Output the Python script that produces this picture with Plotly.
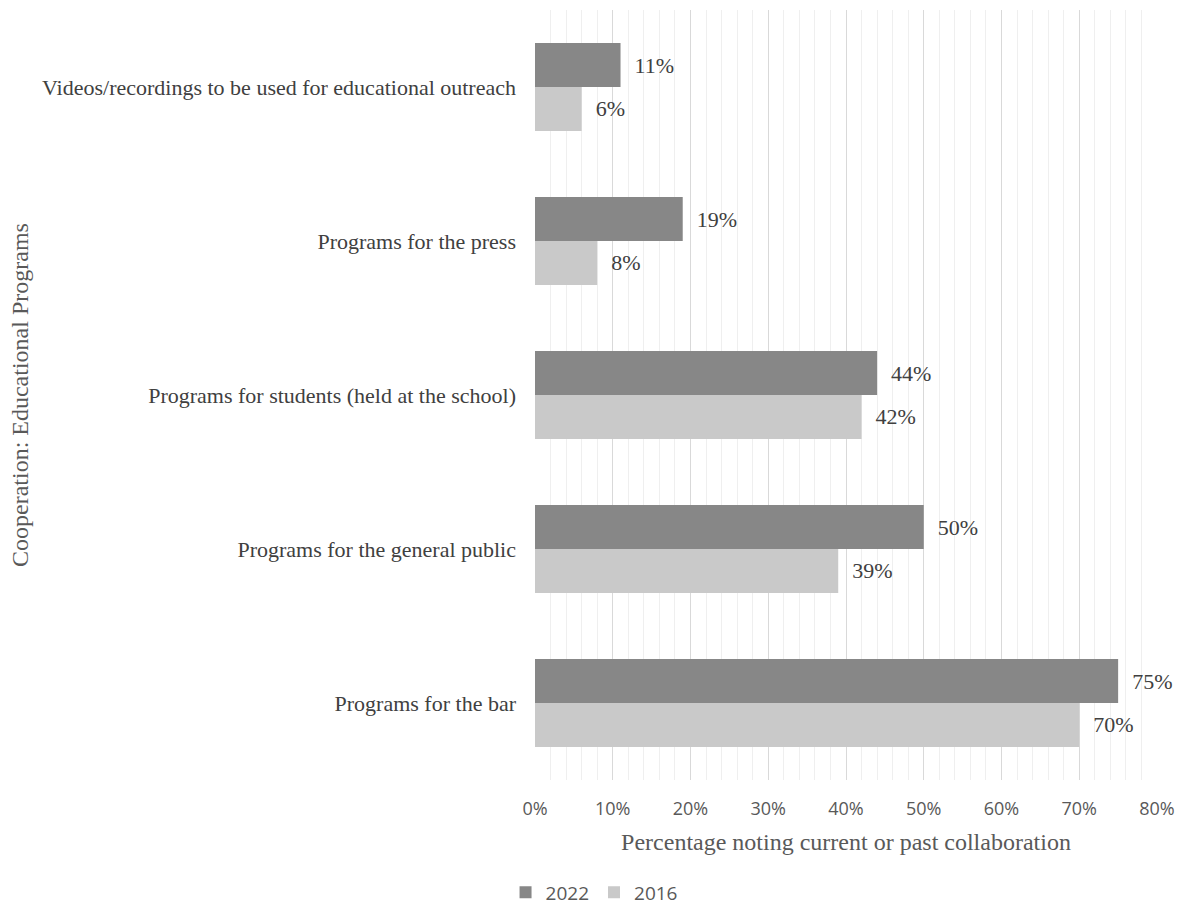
import plotly.graph_objects as go

categories = [
    "Videos/recordings to be used for educational outreach",
    "Programs for the press",
    "Programs for students (held at the school)",
    "Programs for the general public",
    "Programs for the bar",
]
values_2022 = [11, 19, 44, 50, 75]
values_2016 = [6, 8, 42, 39, 70]
x_ticks = [0, 10, 20, 30, 40, 50, 60, 70, 80]

serif = "Liberation Serif"
sans = "Open Sans"

fig = go.Figure()
fig.add_trace(go.Bar(
    y=categories, x=values_2022, name="2022", orientation="h",
    marker=dict(color="#878787", line=dict(width=0)),
    text=[f"  {v}%" for v in values_2022], textposition="outside",
    textfont=dict(family=serif, size=22, color="#404040"), cliponaxis=False,
))
fig.add_trace(go.Bar(
    y=categories, x=values_2016, name="2016", orientation="h",
    marker=dict(color="#c9c9c9", line=dict(width=0)),
    text=[f"  {v}%" for v in values_2016], textposition="outside",
    textfont=dict(family=serif, size=22, color="#404040"), cliponaxis=False,
))

L, R, T, B = 535, 24, 10, 125
fig.update_layout(
    width=1181, height=905,
    margin=dict(l=L, r=R, t=T, b=B, autoexpand=False),
    paper_bgcolor="white", plot_bgcolor="white",
    barmode="group", bargap=0.43, bargroupgap=0,
    showlegend=True,
    legend=dict(orientation="h", xref="container", yref="paper",
                x=0.503, y=-0.146, xanchor="center", yanchor="middle",
                font=dict(family=sans, size=19, color="#595959"),
                itemwidth=30, tracegroupgap=0),
    xaxis=dict(
        range=[0, 80], tickmode="array", tickvals=x_ticks,
        ticktext=[f"{v}%" for v in x_ticks], automargin=False,
        showgrid=True, gridcolor="#d9d9d9", gridwidth=1,
        minor=dict(dtick=2, showgrid=True, gridcolor="#efefef", gridwidth=1),
        zeroline=False, showline=False,
        tickfont=dict(family=sans, size=18, color="#595959"),
        ticks="", ticklabelstandoff=16,
        title=dict(text="Percentage noting current or past collaboration",
                   font=dict(family=serif, size=24, color="#595959"), standoff=14),
    ),
    yaxis=dict(
        autorange="reversed", showgrid=False, showline=False, zeroline=False,
        automargin=False,
        tickfont=dict(family=serif, size=22, color="#404040"),
        ticks="", ticklabelstandoff=18,
    ),
    annotations=[dict(
        text="Cooperation: Educational Programs", textangle=-90,
        xref="paper", yref="paper", x=(20 - L) / (1181 - L - R), y=0.5,
        xanchor="center", yanchor="middle", showarrow=False,
        font=dict(family=serif, size=24, color="#595959"),
    )],
)

fig.write_html("out.html")
